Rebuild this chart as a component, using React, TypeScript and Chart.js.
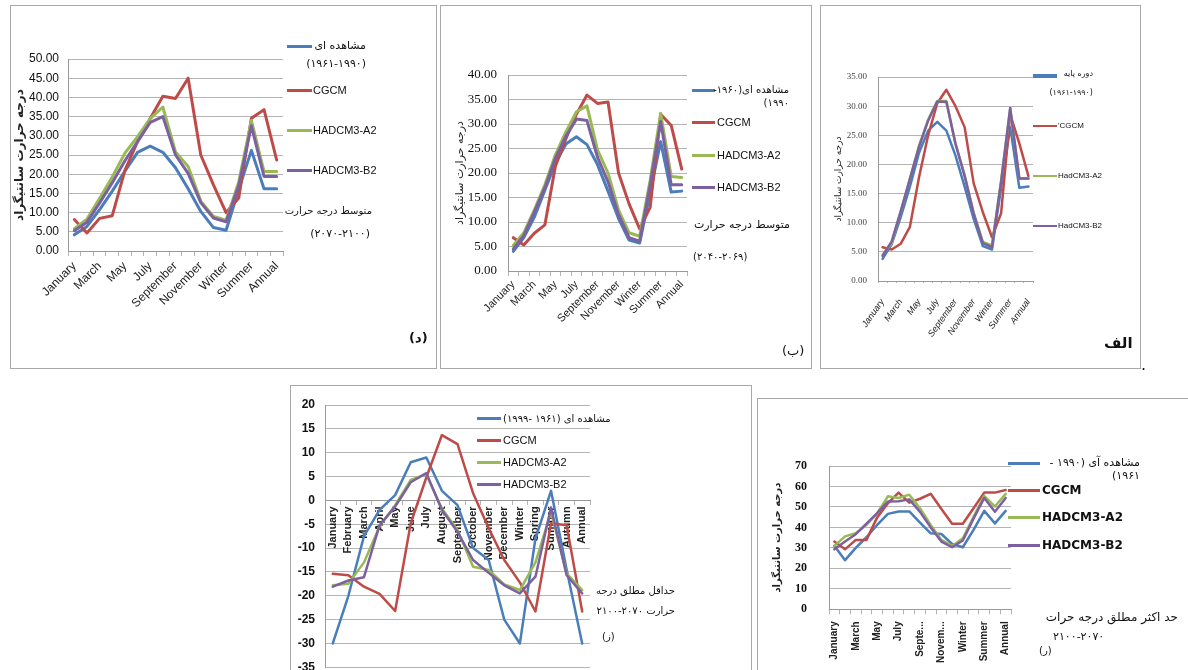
import React, { useEffect, useRef } from "react";
import { Chart, registerables } from "chart.js";
Chart.register(...registerables);

// ---------- DATA ----------
const CATS = ["January","February","March","April","May","June","July","August","September","October","November","December","Winter","Spring","Summer","Autumn","Annual"];

// (د) mean temperature 2070-2100
const meanFarObs  = [4.2, 6.4, 10.8, 15.6, 20.8, 25.7, 27.3, 25.7, 21.7, 16.2, 10.3, 6.1, 5.4, 16, 26.2, 16.2, 16.2];
const meanFarCgcm = [8.2, 4.7, 8.5, 9.2, 21, 28.5, 34.5, 40.3, 39.7, 45, 25, 17.2, 10, 13.8, 34.6, 36.8, 23.7];
const meanFarA2   = [5.8, 8.3, 13.7, 19.3, 25.5, 29.8, 34.5, 37.5, 25.8, 22, 13, 9, 8, 18, 34, 20.7, 20.7];
const meanFarB2   = [5.3, 7.5, 12.5, 17.8, 23.5, 28.5, 33.5, 35, 25, 20.2, 12.6, 8.6, 7.6, 17, 32.6, 19.4, 19.4];

// (ب) mean temperature 2040-2069
const meanMidObs  = [4, 6.8, 11, 16.5, 22, 25.9, 27.4, 25.8, 21.7, 16.3, 10.7, 6.3, 5.7, 16, 26.4, 16.1, 16.3];
const meanMidCgcm = [6.8, 5.3, 7.7, 9.4, 21.4, 27, 32, 35.9, 34.2, 34.5, 20, 13.7, 8.6, 13, 32, 29.7, 20.8];
const meanMidA2   = [5.2, 7.8, 12.5, 17.6, 23.7, 28.4, 32.5, 33.7, 24.7, 20, 12.4, 7.8, 7.1, 18.5, 32.2, 19.3, 19.1];
const meanMidB2   = [4.5, 7.2, 12, 17, 23, 27.5, 31, 30.7, 23.2, 18.2, 11.5, 6.8, 6.1, 17.5, 30.5, 17.6, 17.6];

// (الف) mean temperature, base period
const meanBaseObs  = [3.8, 6.3, 11, 16.2, 22, 25.8, 27.3, 25.8, 21.5, 16.2, 10.6, 6, 5.4, 16, 26.4, 16, 16.2];
const meanBaseCgcm = [5.8, 5.4, 6.4, 9.3, 17.8, 25, 30.5, 32.8, 30, 26.4, 16.7, 11.8, 7.5, 11.6, 28.6, 23.6, 18];
const meanBaseA2   = [4.5, 6.5, 12, 17.6, 23.2, 27.7, 30.9, 30.9, 23.6, 18.2, 11.7, 6.7, 6.1, 17.2, 29.6, 17.6, 17.6];
const meanBaseB2   = [4.3, 6.8, 12, 17.5, 23, 27.5, 30.8, 30.7, 23.5, 18, 11.5, 6.5, 5.8, 17, 29.7, 17.6, 17.6];

// (ز) absolute minimum 2070-2100
const minFarObs  = [-30, -20, -7.5, -2, 1.1, 8, 9, 2, -1, -10, -12.5, -25, -30, -8, 2, -14.5, -30];
const minFarCgcm = [-15.4, -15.7, -18.1, -19.6, -23.2, -4.8, 4.8, 13.7, 11.8, 1.5, -5.8, -12.5, -17.2, -23.3, -4.8, -5.2, -23.3];
const minFarA2   = [-17.8, -17.5, -13, -5.5, -1, 4.3, 5.5, -1.7, -6.2, -13.9, -14.6, -17.6, -18.8, -13, -2.4, -15.3, -18.8];
const minFarB2   = [-18.1, -16.8, -16.1, -5.2, -1.3, 3.8, 5.7, -2, -6.6, -12.5, -15.2, -17.8, -19.5, -16, -1.5, -15.7, -19.5];

// (ر) absolute maximum 2070-2100
const maxFarObs  = [31, 24, 30, 35.2, 41.2, 46.6, 47.8, 47.8, 42.3, 37.1, 36.8, 31.9, 30.3, 38.8, 48.1, 42, 48.1];
const maxFarCgcm = [33.1, 29.3, 33.9, 33.9, 44.9, 51.8, 57, 52.1, 54, 56.4, 49, 41.8, 41.8, 49.4, 57, 57, 58.3];
const maxFarA2   = [31, 35.6, 37.2, 41.2, 46.9, 55.2, 54.4, 56, 49.4, 41.2, 33.9, 30.9, 34.7, 45.2, 55.4, 50.2, 56.4];
const maxFarB2   = [29.3, 33.1, 36.7, 41.8, 47, 52.6, 52.8, 53.7, 47.6, 40, 33.1, 30.3, 33.6, 44.3, 54.4, 47.6, 54.4];

const Y_TITLE = "درجه حرارت سانتیگراد";

// ---------- STYLE ----------
const COLORS = ["#4A7EBB", "#BE4B48", "#98B954", "#7D60A0"];
const SANS = "'Liberation Sans',Arial,sans-serif";
const SERIF = "'Liberation Serif','Times New Roman',serif";
const FA = "'DejaVu Sans',sans-serif";
const GRID = "#b4b4b4";

type Cfg = {
  x: number; y: number; w: number; h: number;
  pl: number; pt: number; pr: number; pb: number;
  yMin: number; yMax: number; step: number; dec: number;
  yFont: any; yPad: number; yColor: string;
  xFont: any; xRot: number; every: number; xPad: number; tickLen: number; truncate?: boolean; xAtZero?: boolean;
  title?: string; titleFont?: any; titleX?: number;
  series: number[][]; lw: number;
};

const panels: Cfg[] = [
  { x: 10, y: 5, w: 426, h: 363, pl: 68, pt: 59, pr: 283, pb: 251,
    yMin: 0, yMax: 50, step: 5, dec: 2, yFont: { family: SANS, size: 12 }, yPad: 9, yColor: "#111",
    xFont: { family: SANS, size: 12 }, xRot: 45, every: 2, xPad: 3, tickLen: 5,
    title: Y_TITLE, titleFont: { family: FA, size: 12, weight: "bold" }, titleX: 20,
    series: [meanFarObs, meanFarCgcm, meanFarA2, meanFarB2], lw: 3 },
  { x: 440, y: 5, w: 371, h: 363, pl: 508, pt: 75, pr: 687, pb: 271,
    yMin: 0, yMax: 40, step: 5, dec: 2, yFont: { family: SERIF, size: 13 }, yPad: 11, yColor: "#111",
    xFont: { family: SANS, size: 11 }, xRot: 45, every: 2, xPad: 2, tickLen: 5,
    title: Y_TITLE, titleFont: { family: FA, size: 11 }, titleX: 460,
    series: [meanMidObs, meanMidCgcm, meanMidA2, meanMidB2], lw: 3 },
  { x: 820, y: 5, w: 320, h: 363, pl: 878, pt: 77, pr: 1033, pb: 281,
    yMin: 0, yMax: 35, step: 5, dec: 2, yFont: { family: SERIF, size: 9 }, yPad: 11, yColor: "#444",
    xFont: { family: SANS, size: 9, style: "italic" }, xRot: 55, every: 2, xPad: 14, tickLen: 2,
    title: Y_TITLE, titleFont: { family: FA, size: 9 }, titleX: 839,
    series: [meanBaseObs, meanBaseCgcm, meanBaseA2, meanBaseB2], lw: 2.5 },
  { x: 290, y: 385, w: 461, h: 305, pl: 325, pt: 405, pr: 590, pb: 667.3,
    yMin: -35, yMax: 20, step: 5, dec: 0, yFont: { family: SANS, size: 12, weight: "bold" }, yPad: 10, yColor: "#111",
    xFont: { family: SANS, size: 11, weight: "bold" }, xRot: 90, every: 1, xPad: 2, tickLen: 4, xAtZero: true,
    series: [minFarObs, minFarCgcm, minFarA2, minFarB2], lw: 2.5 },
  { x: 757, y: 398, w: 431, h: 272, pl: 829, pt: 466, pr: 1011, pb: 609.3,
    yMin: 0, yMax: 70, step: 10, dec: 0, yFont: { family: SERIF, size: 12, weight: "bold" }, yPad: 22, yColor: "#111",
    xFont: { family: SANS, size: 10, weight: "bold" }, xRot: 90, every: 2, xPad: 7, tickLen: 5, truncate: true,
    title: Y_TITLE, titleFont: { family: FA, size: 10, weight: "bold" }, titleX: 777,
    series: [maxFarObs, maxFarCgcm, maxFarA2, maxFarB2], lw: 2.5 },
];

function LineChart({ c }: { c: Cfg }) {
  const ref = useRef<HTMLCanvasElement>(null);
  useEffect(() => {
    const tSize = c.titleFont ? c.titleFont.size : 12;
    const chart = new Chart(ref.current as HTMLCanvasElement, {
      type: "line",
      data: {
        labels: CATS,
        datasets: c.series.map((s, i) => ({
          data: s, borderColor: COLORS[i], backgroundColor: COLORS[i], borderWidth: c.lw,
          pointRadius: 0, tension: 0, fill: false, order: 3 - i,
          borderJoinStyle: "round" as const, borderCapStyle: "round" as const,
        })),
      },
      options: {
        animation: false, responsive: false, maintainAspectRatio: false, events: [],
        layout: { padding: { left: 0, top: c.pt - c.y, right: c.x + c.w - c.pr, bottom: c.xAtZero ? c.y + c.h - c.pb : 0 } },
        plugins: { legend: { display: false }, tooltip: { enabled: false }, title: { display: false } },
        scales: {
          x: {
            type: "category", offset: true,
            position: (c.xAtZero ? { y: 0 } : "bottom") as any,
            grid: { display: true, drawOnChartArea: false, drawTicks: true, tickLength: c.tickLen, color: GRID, offset: true },
            border: { display: true, color: "#999" },
            ticks: {
              autoSkip: false, minRotation: c.xRot, maxRotation: c.xRot, padding: c.xPad, color: "#222", font: c.xFont,
              callback: (_v: any, i: number) => {
                if (i % c.every !== 0) return "";
                const s = CATS[i];
                return c.truncate && s.length > 7 ? s.slice(0, 5) + "..." : s;
              },
            },
            afterFit: (s: any) => { if (!c.xAtZero) s.height = c.y + c.h - c.pb; },
          },
          y: {
            type: "linear", min: c.yMin, max: c.yMax,
            ticks: { stepSize: c.step, autoSkip: false, padding: c.yPad, color: c.yColor, font: c.yFont, callback: (v: any) => Number(v).toFixed(c.dec) },
            grid: { color: GRID, drawTicks: false },
            border: { display: true, color: "#999" },
            title: {
              display: !!c.title, text: c.title || "", font: c.titleFont, color: "#222",
              padding: { top: (c.titleX || 0) - c.x - tSize * 0.6, bottom: 0 },
            },
            afterFit: (s: any) => { s.width = c.pl - c.x; },
          },
        },
      } as any,
    });
    return () => chart.destroy();
  }, []);
  return <canvas ref={ref} width={c.w} height={c.h}
    style={{ position: "absolute", left: c.x, top: c.y, width: c.w, height: c.h }} />;
}

function Txt({ t, x, y, size, font = FA, bold = false, right = false, rtl = false, color = "#111" }:
  { t: string; x: number; y: number; size: number; font?: string; bold?: boolean; right?: boolean; rtl?: boolean; color?: string }) {
  const lh = Math.round(size * 1.3);
  const st: React.CSSProperties = {
    position: "absolute", top: y - lh / 2, lineHeight: lh + "px", fontSize: size, fontFamily: font,
    fontWeight: bold ? 700 : 400, whiteSpace: "nowrap", color, direction: rtl ? "rtl" : "ltr",
  };
  if (right) st.right = 1188 - x; else st.left = x;
  return <div style={st}>{t}</div>;
}

function Ln({ x1, x2, y, color, w = 3 }: { x1: number; x2: number; y: number; color: string; w?: number }) {
  return <div style={{ position: "absolute", left: x1, top: y - w / 2, width: x2 - x1, height: w, background: color }} />;
}

function Frame({ l, t, r, b, color = "#a8a8a8" }: { l: number; t: number; r: number; b: number; color?: string }) {
  return <div style={{ position: "absolute", left: l, top: t, width: r - l, height: b - t, border: "1px solid " + color, boxSizing: "border-box", background: "#fff" }} />;
}

export default function App() {
  return (
    <div style={{ position: "absolute", left: 0, top: 0, width: 1188, height: 670, overflow: "hidden", background: "#fff" }}>
      <Frame l={10} t={5} r={437} b={369} />
      <Frame l={440} t={5} r={812} b={369} />
      <Frame l={820} t={5} r={1141} b={369} />
      <Frame l={290} t={385} r={752} b={700} />
      <Frame l={757} t={398} r={1200} b={700} />
      {panels.map((c, i) => <LineChart key={i} c={c} />)}

      {/* panel د */}
      <Ln x1={287} x2={312} y={46} color={COLORS[0]} />
      <Txt t="مشاهده ای" x={366} y={46} size={11} right rtl />
      <Txt t="(۱۹۶۱-۱۹۹۰)" x={366} y={64} size={11} right />
      <Ln x1={287} x2={312} y={90} color={COLORS[1]} />
      <Txt t="CGCM" x={313} y={90} size={11} font={SANS} />
      <Ln x1={287} x2={312} y={130} color={COLORS[2]} />
      <Txt t="HADCM3-A2" x={313} y={130} size={11} font={SANS} />
      <Ln x1={287} x2={312} y={170} color={COLORS[3]} />
      <Txt t="HADCM3-B2" x={313} y={170} size={11} font={SANS} />
      <Txt t="متوسط درجه حرارت" x={372} y={210} size={10} right rtl />
      <Txt t="(۲۰۷۰-۲۱۰۰)" x={370} y={234} size={11} right />
      <Txt t="(د)" x={409} y={337} size={13} bold />

      {/* panel ب */}
      <Ln x1={692} x2={715} y={90} color={COLORS[0]} />
      <Txt t="مشاهده ای(۱۹۶۰-" x={789} y={89} size={10} right rtl />
      <Txt t="۱۹۹۰)" x={789} y={102} size={10} right rtl />
      <Ln x1={692} x2={715} y={122} color={COLORS[1]} />
      <Txt t="CGCM" x={717} y={122} size={11} font={SANS} />
      <Ln x1={692} x2={715} y={155} color={COLORS[2]} />
      <Txt t="HADCM3-A2" x={717} y={155} size={11} font={SANS} />
      <Ln x1={692} x2={715} y={187} color={COLORS[3]} />
      <Txt t="HADCM3-B2" x={717} y={187} size={11} font={SANS} />
      <Txt t="متوسط درجه حرارت" x={790} y={225} size={11} right rtl />
      <Txt t="(۲۰۴۰-۲۰۶۹)" x={693} y={256} size={10} />
      <Txt t="(ب)" x={782} y={350} size={13} />

      {/* panel الف */}
      <Ln x1={1033} x2={1057} y={76} color={COLORS[0]} w={4} />
      <Txt t="دوره پایه" x={1093} y={74} size={8} right rtl />
      <Txt t="(۱۹۶۱-۱۹۹۰)" x={1093} y={93} size={8} right />
      <Ln x1={1033} x2={1057} y={126} color={COLORS[1]} w={2} />
      <Txt t="'CGCM" x={1058} y={126} size={8} font={SANS} />
      <Ln x1={1033} x2={1057} y={176} color={COLORS[2]} w={2} />
      <Txt t="HadCM3-A2" x={1058} y={176} size={8} font={SANS} />
      <Ln x1={1033} x2={1057} y={226} color={COLORS[3]} w={2} />
      <Txt t="HadCM3-B2" x={1058} y={226} size={8} font={SANS} />
      <Txt t="الف" x={1104} y={343} size={15} bold />
      <Txt t="." x={1141} y={364} size={16} />

      {/* panel ز */}
      <Ln x1={477} x2={501} y={418} color={COLORS[0]} />
      <Txt t="مشاهده ای (۱۹۶۱ -۱۹۹۹)" x={503} y={418} size={10} rtl />
      <Ln x1={477} x2={501} y={440} color={COLORS[1]} />
      <Txt t="CGCM" x={503} y={440} size={11} font={SANS} />
      <Ln x1={477} x2={501} y={462} color={COLORS[2]} />
      <Txt t="HADCM3-A2" x={503} y={462} size={11} font={SANS} />
      <Ln x1={477} x2={501} y={484} color={COLORS[3]} />
      <Txt t="HADCM3-B2" x={503} y={484} size={11} font={SANS} />
      <Txt t="حداقل مطلق درجه" x={675} y={590} size={10} right rtl />
      <Txt t="حرارت ۲۰۷۰-۲۱۰۰" x={675} y={610} size={10} right rtl />
      <Txt t="(ز)" x={602} y={636} size={10} />

      {/* panel ر */}
      <Ln x1={1008} x2={1040} y={463} color={COLORS[0]} />
      <Txt t="مشاهده آی (۱۹۹۰ -" x={1140} y={463} size={11} right rtl />
      <Txt t="۱۹۶۱)" x={1140} y={476} size={11} right rtl />
      <Ln x1={1008} x2={1040} y={490} color={COLORS[1]} />
      <Txt t="CGCM" x={1042} y={490} size={12} bold />
      <Ln x1={1008} x2={1040} y={517} color={COLORS[2]} />
      <Txt t="HADCM3-A2" x={1042} y={517} size={12} bold />
      <Ln x1={1008} x2={1040} y={545} color={COLORS[3]} />
      <Txt t="HADCM3-B2" x={1042} y={545} size={12} bold />
      <Txt t="حد اکثر مطلق درجه حرات" x={1178} y={617} size={12} right rtl />
      <Txt t="۲۱۰۰-۲۰۷۰" x={1053} y={637} size={11} />
      <Txt t="(ر)" x={1039} y={650} size={10} />
    </div>
  );
}
